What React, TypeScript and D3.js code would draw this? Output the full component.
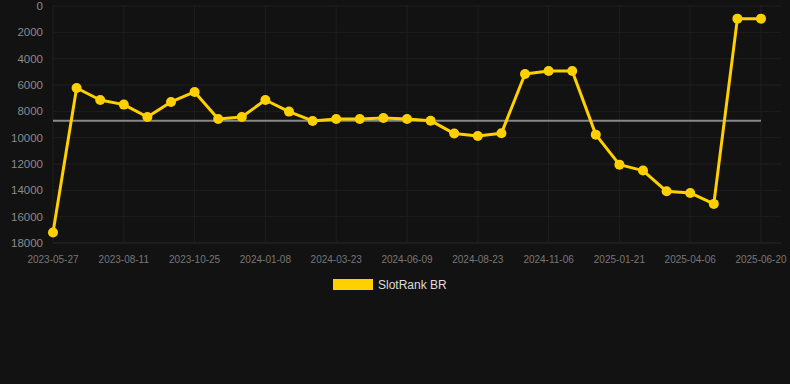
import React from "react";
import * as d3 from "d3";

const categories = [
  "2023-05-27", "2023-06-21", "2023-07-16", "2023-08-11", "2023-09-05", "2023-09-30",
  "2023-10-25", "2023-11-19", "2023-12-14", "2024-01-08", "2024-02-02", "2024-02-27",
  "2024-03-23", "2024-04-17", "2024-05-14", "2024-06-09", "2024-07-04", "2024-07-29",
  "2024-08-23", "2024-09-17", "2024-10-12", "2024-11-06", "2024-12-01", "2024-12-26",
  "2025-01-21", "2025-02-15", "2025-03-12", "2025-04-06", "2025-05-01", "2025-05-26",
  "2025-06-20",
];

const rankValues = [
  17200, 6230, 7140, 7490, 8430, 7290, 6530, 8580, 8430, 7140, 8020, 8730,
  8580, 8580, 8500, 8580, 8710, 9690, 9870, 9670, 5160, 4935, 4935, 9770,
  12050, 12500, 14070, 14200, 15030, 960, 960,
];

const averageValue = 8710;
const yTicks = [0, 2000, 4000, 6000, 8000, 10000, 12000, 14000, 16000, 18000];
const xTickLabels = [
  "2023-05-27", "2023-08-11", "2023-10-25", "2024-01-08", "2024-03-23", "2024-06-09",
  "2024-08-23", "2024-11-06", "2025-01-21", "2025-04-06", "2025-06-20",
];
const seriesName = "SlotRank BR";

export default function App() {
  const W = 790, H = 384;
  const left = 53, right = 761, top = 6, bottom = 243;
  const x = d3.scalePoint<string>().domain(categories).range([left, right]);
  const y = d3.scaleLinear().domain([0, 18000]).range([top, bottom]);
  const line = d3
    .line<number>()
    .x((_, i) => x(categories[i]) as number)
    .y((d) => y(d));
  const font = "'Liberation Sans', Arial, sans-serif";
  const yellow = "#FFD000";

  return (
    <div style={{ position: "fixed", left: 0, top: 0 }}>
      <svg width={W} height={H} style={{ display: "block", background: "#121212" }}>
        <rect width={W} height={H} fill="#121212" />
        {yTicks.map((t) => (
          <g key={t}>
            <line
              x1={left}
              x2={right + 20}
              y1={y(t)}
              y2={y(t)}
              stroke={t === 18000 ? "#2a2a2a" : "#1e1e1e"}
              strokeWidth={1}
            />
            <text
              x={43}
              y={y(t)}
              dy="0.35em"
              textAnchor="end"
              fill="#8a8a8a"
              fontSize={11.5}
              fontFamily={font}
            >
              {t}
            </text>
          </g>
        ))}
        {xTickLabels.map((c) => (
          <g key={c}>
            <line x1={x(c)} x2={x(c)} y1={top} y2={bottom} stroke="#1e1e1e" strokeWidth={1} />
            <text
              x={x(c)}
              y={259}
              dy="0.35em"
              textAnchor="middle"
              fill="#777"
              fontSize={10}
              fontFamily={font}
            >
              {c}
            </text>
          </g>
        ))}
        <line
          x1={left}
          x2={right}
          y1={y(averageValue)}
          y2={y(averageValue)}
          stroke="#888"
          strokeWidth={2}
        />
        <path d={line(rankValues) || ""} fill="none" stroke={yellow} strokeWidth={3} strokeLinejoin="round" />
        {rankValues.map((v, i) => (
          <circle key={i} cx={x(categories[i])} cy={y(v)} r={5} fill={yellow} />
        ))}
        <rect x={333} y={279} width={40} height={11} fill={yellow} />
        <text x={378} y={285} dy="0.35em" fill="#ddd" fontSize={12} fontFamily={font}>
          {seriesName}
        </text>
      </svg>
    </div>
  );
}
